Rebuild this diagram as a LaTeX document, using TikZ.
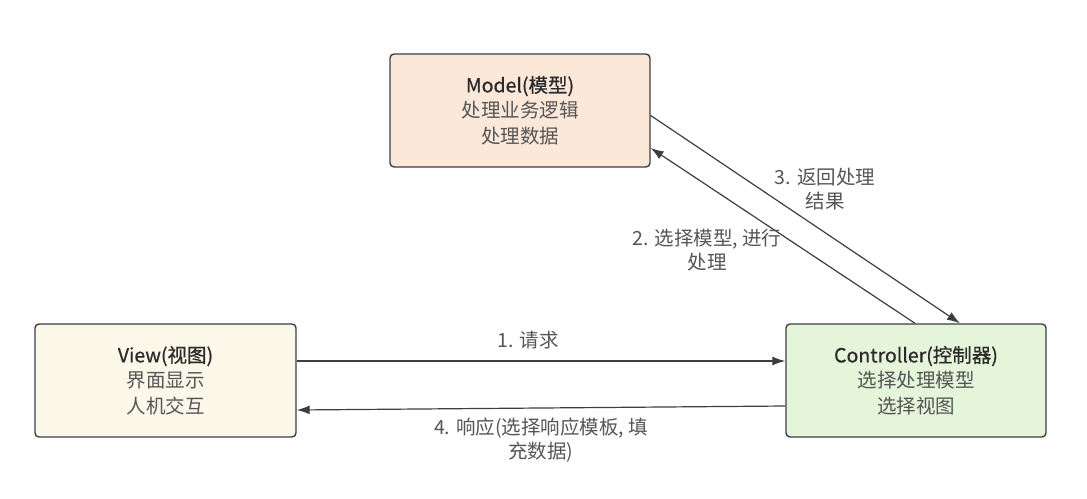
\documentclass[tikz,border=0pt]{standalone}
\usepackage{fontspec}
\setmainfont{Noto Sans CJK SC}
\newfontfamily\titlefont[FakeBold=0.7]{Noto Sans CJK SC}
\usetikzlibrary{arrows.meta,calc}
\definecolor{modelfill}{HTML}{FCE8D9}
\definecolor{viewfill}{HTML}{FBF7E9}
\definecolor{ctrlfill}{HTML}{E4F5DA}
\definecolor{edgegray}{HTML}{3B3F44}
\definecolor{txtgray}{HTML}{555555}
\definecolor{titlegray}{HTML}{2A2A2A}
\tikzset{
  box/.style={draw=edgegray, line width=1.4pt, rounded corners=4pt,
    minimum width=260pt, minimum height=113pt, align=center,
    text=txtgray, font=\fontsize{19.5}{25.5}\selectfont, inner sep=0pt},
  flow/.style={draw=edgegray, line width=1.2pt,
    -{Latex[length=13pt,width=9pt]}},
  lbl/.style={text=txtgray, font=\fontsize{19.5}{24}\selectfont, align=center, inner sep=0pt}
}
\newcommand{\ttl}[1]{{\titlefont\color{titlegray}#1}}
\begin{document}
\begin{tikzpicture}[x=1pt,y=-1pt]
\useasboundingbox (0,0) rectangle (1087,498);
\node[box, fill=modelfill] (model) at (520,110.5) {\ttl{Model(模型)}\\处理业务逻辑\\处理数据};
\node[box, fill=viewfill, minimum width=261pt] (view) at (165.5,380.5) {\ttl{View(视图)}\\界面显示\\人机交互};
\node[box, fill=ctrlfill] (ctrl) at (916,380.5) {\ttl{Controller(控制器)}\\选择处理模型\\选择视图};
% arrows
\draw[flow] ($(view.east)+(0,-19.5)$) -- ($(ctrl.west)+(0,-19.5)$);
\draw[flow] ($(ctrl.west)+(0,25.5)$) -- ($(view.east)+(0,29.5)$);
\draw[flow] ($(ctrl.north)+(-1,0)$) -- ($(model.east)+(0,37.5)$);
\draw[flow] ($(model.east)+(0,5)$) -- ($(ctrl.north)+(44,0)$);
% labels
\node[lbl] (l1) at (528,340) {1. 请求};
\node[lbl] (l4) at (541,440) {4. 响应(选择响应模板, 填\\充数据)};
\node[lbl] (l3) at (825,189) {3. 返回处理\\结果};
\node[lbl] (l2) at (707,250) {2. 选择模型, 进行\\处理};
\end{tikzpicture}
\end{document}
